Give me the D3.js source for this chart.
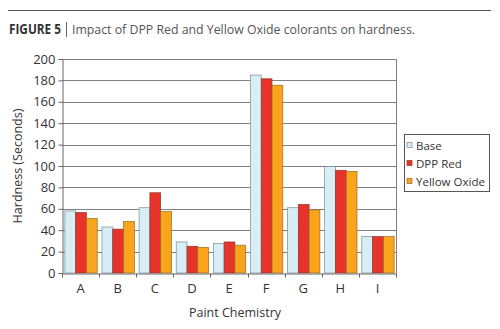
<!DOCTYPE html>
<html>
<head>
<meta charset="utf-8">
<script src="https://cdn.jsdelivr.net/npm/d3@7"></script>
<style>
  html, body { margin: 0; padding: 0; background: #fff; }
  svg { display: block; font-family: "Open Sans", "Noto Sans", sans-serif; }
</style>
</head>
<body>
<svg id="chart" width="500" height="329"></svg>
<script>
// Hardness (seconds) per paint chemistry
const categories = ["A", "B", "C", "D", "E", "F", "G", "H", "I"];
const seriesNames = ["Base", "DPP Red", "Yellow Oxide"];
const baseValues = [58, 43, 61, 29, 27.5, 185, 61, 99.5, 34];
const dppRedValues = [56.5, 41, 75, 25, 29, 181.5, 64, 96, 34];
const yellowOxideValues = [51, 48, 57.5, 24, 26, 175.5, 59, 95, 34];
const yTicks = [0, 20, 40, 60, 80, 100, 120, 140, 160, 180, 200];

const seriesValues = [baseValues, dppRedValues, yellowOxideValues];
const fills = ["#d8eef6", "#e8332a", "#f8a51d"];
const strokes = ["#7a8a94", "#8a3a30", "#9a6a20"];

const svg = d3.select("#chart");

// Heading
svg.append("line").attr("x1", 8).attr("x2", 491).attr("y1", 10.5).attr("y2", 10.5)
  .attr("stroke", "#555").attr("stroke-width", 1);
svg.append("text").attr("x", 9).attr("y", 34)
  .attr("font-size", 13.5).attr("font-weight", "bold").attr("fill", "#333")
  .attr("textLength", 52).attr("lengthAdjust", "spacingAndGlyphs")
  .text("FIGURE 5");
svg.append("line").attr("x1", 66.5).attr("x2", 66.5).attr("y1", 22).attr("y2", 37)
  .attr("stroke", "#666").attr("stroke-width", 1);
svg.append("text").attr("x", 72).attr("y", 34)
  .attr("font-size", 13.5).attr("fill", "#555")
  .attr("textLength", 343).attr("lengthAdjust", "spacingAndGlyphs")
  .text("Impact of DPP Red and Yellow Oxide colorants on hardness.");

const margin = { left: 62, right: 396, top: 59, bottom: 273 };

const x0 = d3.scaleBand().domain(categories).range([margin.left, margin.right]).paddingInner(0).paddingOuter(0);
const x1 = d3.scaleBand().domain(seriesNames).range([0, x0.bandwidth()]).paddingOuter(0.22).paddingInner(0);
const y = d3.scaleLinear().domain([0, 200]).range([margin.bottom, margin.top]);

// Grid
svg.append("g").selectAll("line").data(yTicks.slice(1)).join("line")
  .attr("x1", margin.left).attr("x2", margin.right)
  .attr("y1", d => Math.round(y(d)) + 0.5).attr("y2", d => Math.round(y(d)) + 0.5)
  .attr("stroke", "#808080").attr("stroke-width", 1.1);
svg.append("line").attr("x1", margin.right + 0.5).attr("x2", margin.right + 0.5)
  .attr("y1", margin.top).attr("y2", margin.bottom).attr("stroke", "#808080");

// Bars
const groups = svg.append("g").selectAll("g").data(categories).join("g")
  .attr("transform", d => `translate(${x0(d)},0)`);
groups.selectAll("rect").data((c, i) => seriesNames.map((s, j) => ({ s, j, v: seriesValues[j][i] })))
  .join("rect")
  .attr("x", d => x1(d.s) + 0.5)
  .attr("width", x1.bandwidth())
  .attr("y", d => y(d.v))
  .attr("height", d => y(0) - y(d.v))
  .attr("fill", d => fills[d.j])
  .attr("stroke", d => strokes[d.j])
  .attr("stroke-width", 0.7);

// Y axis
const yAxis = d3.axisLeft(y).tickValues(yTicks).tickSize(4).tickPadding(3);
const gy = svg.append("g").attr("transform", `translate(${margin.left + 0.5},0)`).call(yAxis);
gy.select(".domain").attr("stroke", "#666");
gy.selectAll(".tick line").attr("stroke", "#666");
gy.selectAll(".tick text").attr("font-size", 13).attr("fill", "#333")
  .attr("font-family", "'Open Sans', sans-serif");

// X axis
const xAxis = d3.axisBottom(x0).tickSize(0).tickPadding(10);
const gx = svg.append("g").attr("transform", `translate(0,${margin.bottom + 0.5})`).call(xAxis);
gx.select(".domain").attr("stroke", "#666");
gx.selectAll(".tick text").attr("font-size", 13).attr("fill", "#333")
  .attr("font-family", "'Open Sans', sans-serif");
gx.append("g").selectAll("line").data(categories.concat(["end"])).join("line")
  .attr("x1", (d, i) => Math.round(margin.left + i * x0.bandwidth()) + 0.5)
  .attr("x2", (d, i) => Math.round(margin.left + i * x0.bandwidth()) + 0.5)
  .attr("y1", 0).attr("y2", 4).attr("stroke", "#666");

// Axis titles
svg.append("text").attr("transform", "translate(22,166) rotate(-90)")
  .attr("text-anchor", "middle").attr("font-size", 12.5).attr("fill", "#333")
  .text("Hardness (Seconds)");
svg.append("text").attr("x", 235).attr("y", 317)
  .attr("text-anchor", "middle").attr("font-size", 12.5).attr("fill", "#333")
  .text("Paint Chemistry");

// Legend
const lg = svg.append("g");
lg.append("rect").attr("x", 404.5).attr("y", 134.5).attr("width", 85).attr("height", 57)
  .attr("fill", "#fff").attr("stroke", "#555").attr("stroke-width", 1);
const items = lg.selectAll("g").data(seriesNames).join("g")
  .attr("transform", (d, i) => `translate(407,${145 + i * 18})`);
items.append("rect").attr("x", 0).attr("y", -2.5).attr("width", 5).attr("height", 5)
  .attr("fill", (d, i) => fills[i]).attr("stroke", (d, i) => strokes[i]).attr("stroke-width", 0.7);
items.append("text").attr("x", 9).attr("y", 4.5).attr("font-size", 11.5).attr("fill", "#333")
  .text(d => d);
</script>
</body>
</html>
